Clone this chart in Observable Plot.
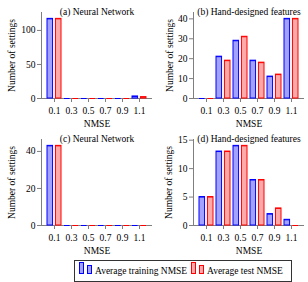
<!DOCTYPE html>
<html><head><meta charset="utf-8">
<script src="https://cdn.jsdelivr.net/npm/d3@7"></script>
<script src="https://cdn.jsdelivr.net/npm/@observablehq/plot@0.6"></script>
<style>
body{margin:0;background:#fff;}
#root{position:relative;width:308px;height:282px;font-family:"Liberation Serif","Times New Roman",serif;color:#000;}
.panel{position:absolute;width:154px;height:127px;}
#legend{position:absolute;left:74px;top:260px;width:218px;height:22px;box-sizing:border-box;border:1px solid #333;font-size:9.5px;}
.sw{position:absolute;box-sizing:border-box;border:1px solid;}
.lt{position:absolute;top:4px;line-height:12px;white-space:nowrap;}
</style>
</head><body>
<div id="root">
  <div class="panel" id="pa" style="left:0;top:0"></div>
  <div class="panel" id="pb" style="left:154px;top:0"></div>
  <div class="panel" id="pc" style="left:0;top:127px"></div>
  <div class="panel" id="pd" style="left:154px;top:127px"></div>
  <div id="legend">
    <div class="sw" style="left:4px;top:1px;width:5px;height:12px;background:#a3a3ff;border-color:#0000ff"></div>
    <div class="sw" style="left:12px;top:4px;width:5px;height:9px;background:#a3a3ff;border-color:#0000ff"></div>
    <span class="lt" style="left:20px">Average training NMSE</span>
    <div class="sw" style="left:116px;top:1px;width:5px;height:12px;background:#ffaaaa;border-color:#ff0000"></div>
    <div class="sw" style="left:124px;top:4px;width:5px;height:9px;background:#ffaaaa;border-color:#ff0000"></div>
    <span class="lt" style="left:132px">Average test NMSE</span>
  </div>
</div>
<script>
const nmse = ["0.1", "0.3", "0.5", "0.7", "0.9", "1.1"];

const trainA = [117, 0, 0, 0, 0, 3];
const testA  = [117, 0, 0, 0, 0, 2];
const trainB = [0, 21, 29, 19, 11, 40];
const testB  = [0, 19, 31, 18, 12, 40];
const trainC = [43, 0, 0, 0, 0, 0];
const testC  = [43, 0, 0, 0, 0, 0];
const trainD = [5, 13, 14, 8, 2, 1];
const testD  = [5, 13, 14, 8, 3, 0];

const yTicksA = [0, 50, 100];
const yTicksB = [0, 10, 20, 30, 40];
const yTicksC = [0, 20, 40];
const yTicksD = [0, 5, 10, 15];

const titleA = "(a) Neural Network";
const titleB = "(b) Hand-designed features";
const titleC = "(c) Neural Network";
const titleD = "(d) Hand-designed features";

const BLUE = "#0000ff", BLUE_FILL = "#a3a3ff";
const RED = "#ff0000", RED_FILL = "#ffaaaa";
const AX = "#7f7f7f";
const FONT = "'Liberation Serif', 'Times New Roman', serif";

function panel(id, {title, train, test, yTicks, ml, mr, yLabelOffset}) {
  const W = 154, H = 127, mt = 12, mb = 29;
  const pi = 0.2, po = 0.3;
  const step = (W - ml - mr) / (nmse.length - pi + 2 * po);
  const bw = step * (1 - pi);
  const half = bw / 2 + 1.5;
  const rows = nmse.map((k, i) => ({k, train: train[i], test: test[i]}));
  const ymax = d3.max([...train, ...test]) * 1.08;
  const plot = Plot.plot({
    width: W, height: H,
    marginLeft: ml, marginRight: mr, marginTop: mt, marginBottom: mb,
    style: {fontFamily: FONT, fontSize: "9.5px", background: "transparent", overflow: "visible", color: "#000"},
    x: {type: "band", domain: nmse, paddingInner: pi, paddingOuter: po},
    y: {domain: [0, ymax]},
    marks: [
      Plot.ruleY([0], {stroke: AX}),
      Plot.frame({anchor: "left", stroke: AX}),
      Plot.barY(rows, {x: "k", y: "train", fill: BLUE_FILL, stroke: BLUE, strokeWidth: 1, insetRight: half}),
      Plot.barY(rows, {x: "k", y: "test", fill: RED_FILL, stroke: RED, strokeWidth: 1, insetLeft: half}),
      Plot.tickY(rows, {x: "k", y: "train", stroke: BLUE, insetRight: half}),
      Plot.tickY(rows, {x: "k", y: "test", stroke: RED, insetLeft: half}),
      Plot.axisY({ticks: yTicks, tickSize: 4, tickPadding: 2, stroke: AX, fill: "#000", fontFamily: FONT, label: "Number of settings", labelAnchor: "center", labelOffset: yLabelOffset, labelArrow: "none"}),
      Plot.axisX({tickSize: 4, tickPadding: 5, stroke: AX, fill: "#000", fontFamily: FONT, label: "NMSE", labelAnchor: "center", labelOffset: 28, labelArrow: "none"}),
      Plot.text([title], {text: d => d, frameAnchor: "top", dy: -4, fill: "#000", fontFamily: FONT})
    ]
  });
  document.getElementById(id).appendChild(plot);
}

panel("pa", {title: titleA, train: trainA, test: testA, yTicks: yTicksA, ml: 41, mr: 2, yLabelOffset: 33});
panel("pb", {title: titleB, train: trainB, test: testB, yTicks: yTicksB, ml: 39, mr: 4, yLabelOffset: 27});
panel("pc", {title: titleC, train: trainC, test: testC, yTicks: yTicksC, ml: 41, mr: 2, yLabelOffset: 33});
panel("pd", {title: titleD, train: trainD, test: testD, yTicks: yTicksD, ml: 39, mr: 4, yLabelOffset: 28});
</script>
</body></html>
